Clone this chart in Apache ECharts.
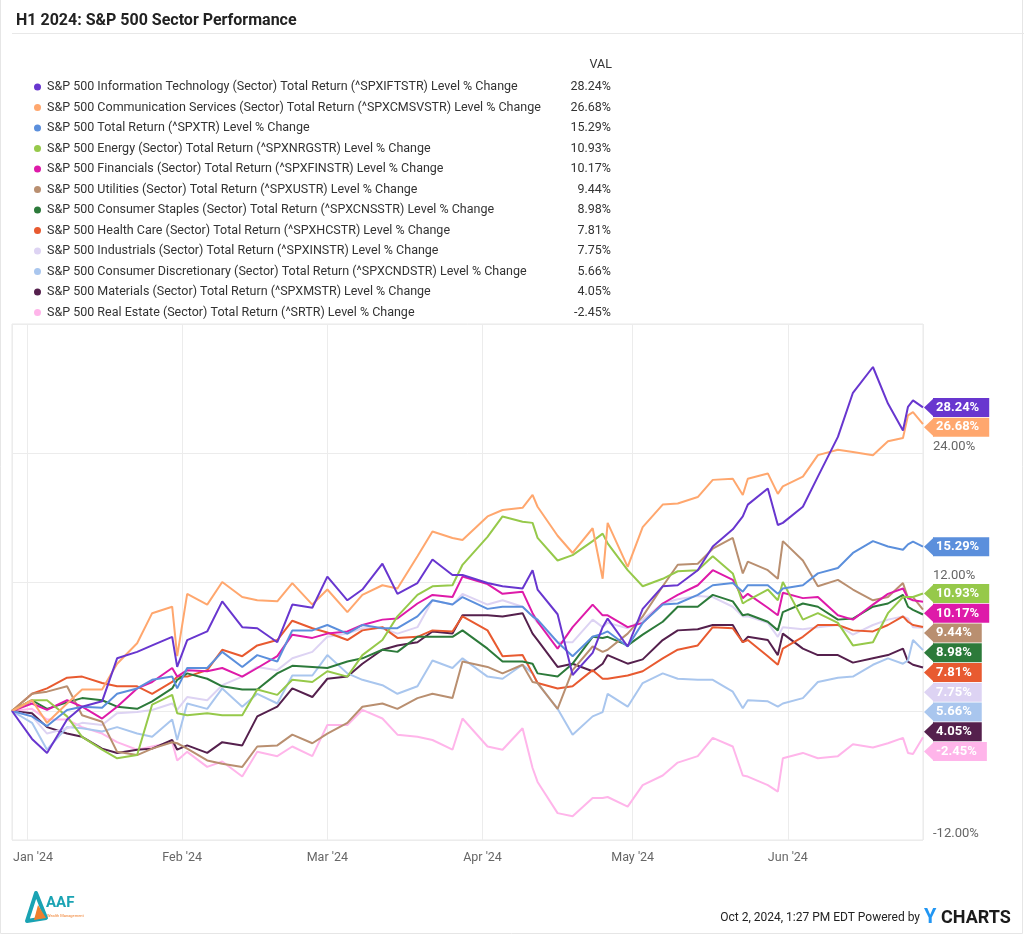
<!DOCTYPE html>
<html><head><meta charset="utf-8">
<script src="https://cdn.jsdelivr.net/npm/echarts@6/dist/echarts.min.js"></script>
<style>html,body{margin:0;padding:0;background:#fff}#c{width:1024px;height:935px}</style>
</head><body><div id="c"></div>
<script>
// ---- data ----
const dates = [
  '2023-12-29','2024-01-02','2024-01-05','2024-01-09','2024-01-12','2024-01-16','2024-01-19','2024-01-23','2024-01-26','2024-01-30','2024-01-31',
  '2024-02-02','2024-02-06','2024-02-09','2024-02-13','2024-02-16','2024-02-20','2024-02-23','2024-02-27','2024-03-01',
  '2024-03-05','2024-03-08','2024-03-12','2024-03-15','2024-03-19','2024-03-22','2024-03-26','2024-03-28','2024-04-02','2024-04-05','2024-04-09','2024-04-11','2024-04-12','2024-04-16','2024-04-19','2024-04-23','2024-04-25','2024-04-26','2024-04-30',
  '2024-05-03','2024-05-07','2024-05-10','2024-05-14','2024-05-17','2024-05-21','2024-05-23','2024-05-24','2024-05-28','2024-05-30','2024-05-31','2024-06-04','2024-06-07','2024-06-11','2024-06-14','2024-06-18','2024-06-21','2024-06-24','2024-06-25','2024-06-26','2024-06-28'];

const seriesNames = [
  'S&P 500 Information Technology (Sector) Total Return (^SPXIFTSTR) Level % Change',
  'S&P 500 Communication Services (Sector) Total Return (^SPXCMSVSTR) Level % Change',
  'S&P 500 Total Return (^SPXTR) Level % Change',
  'S&P 500 Energy (Sector) Total Return (^SPXNRGSTR) Level % Change',
  'S&P 500 Financials (Sector) Total Return (^SPXFINSTR) Level % Change',
  'S&P 500 Utilities (Sector) Total Return (^SPXUSTR) Level % Change',
  'S&P 500 Consumer Staples (Sector) Total Return (^SPXCNSSTR) Level % Change',
  'S&P 500 Health Care (Sector) Total Return (^SPXHCSTR) Level % Change',
  'S&P 500 Industrials (Sector) Total Return (^SPXINSTR) Level % Change',
  'S&P 500 Consumer Discretionary (Sector) Total Return (^SPXCNDSTR) Level % Change',
  'S&P 500 Materials (Sector) Total Return (^SPXMSTR) Level % Change',
  'S&P 500 Real Estate (Sector) Total Return (^SRTR) Level % Change'
];

const itValues = [0,-2.6,-3.9,-0.8,0.4,0.9,4.9,5.5,6.1,6.9,4.1,
  6.6,7.4,10.2,7.8,7.7,6.4,9.9,9.6,12.5,
  10.3,11.3,13.7,10.9,11.9,14.1,12.65,12.65,11.9,11.6,11.4,13.1,11.3,9.0,3.35,5.4,7.8,8.6,6.0,
  9.5,11.6,11.7,13.1,15.3,16.9,18.1,19.2,20.7,17.3,17.5,19.0,21.8,25.5,29.6,32.0,28.6,26.1,28.3,28.9,28.24];
const commValues = [0,1.0,-1.1,0.7,2.0,2.0,4.4,6.3,9.1,9.7,5.1,
  10.9,9.9,12.0,10.6,10.3,10.2,11.9,9.9,11.3,
  9.2,10.8,11.7,11.4,14.4,16.7,16.1,15.9,18.1,18.7,18.9,20.1,19.0,16.3,14.7,17.0,12.3,17.5,13.4,
  17.1,19.2,19.3,19.9,21.5,21.6,20.1,21.6,22.1,20.2,20.9,21.8,23.8,24.3,24.1,23.8,25.1,25.4,27.5,27.8,26.68];
const spxValues = [0,-0.5,-1.4,0.1,0.4,0.3,1.6,2.1,2.9,3.2,2.1,
  4.0,4.0,5.5,4.1,5.2,4.6,7.5,7.5,8.0,
  7.2,8.0,7.7,7.7,8.8,10.3,9.9,10.6,9.5,9.7,9.7,8.8,8.5,6.4,5.1,6.9,7.2,7.4,6.0,
  8.2,9.9,10.0,10.8,11.7,11.9,11.1,11.7,11.7,10.9,11.4,11.7,12.8,13.3,14.7,15.8,15.3,15.0,15.5,15.75,15.29];
const energyValues = [0,1.0,1.0,-0.5,-2.4,-3.6,-4.4,-4.1,0.6,1.5,-0.2,
  -0.4,-0.2,-0.4,-0.4,2.0,1.5,2.9,2.7,3.7,
  3.2,5.2,6.6,8.8,10.8,11.6,11.7,13.6,16.2,18.1,17.6,17.5,16.1,14.0,14.5,15.8,16.5,15.6,13.1,
  11.6,12.3,13.0,13.1,14.4,12.8,10.0,10.3,11.3,10.3,12.0,8.5,9.1,8.2,6.1,6.4,9.1,10.6,10.6,10.6,10.93];
const finValues = [0,0.7,0.1,1.0,0.4,-0.7,0.4,2.1,2.7,4.0,3.2,
  3.8,3.7,4.0,3.2,4.0,5.1,7.1,6.8,7.2,
  7.4,8.0,8.5,8.6,10.0,10.8,10.6,12.5,11.8,10.9,11.1,9.1,8.3,5.8,7.8,9.9,8.9,8.9,7.8,
  8.2,10.0,10.8,11.7,13.1,12.2,10.5,10.9,9.6,8.9,11.0,10.5,10.6,8.9,8.5,9.9,10.9,11.4,10.5,10.3,10.17];
const utilValues = [0,1.6,1.8,2.3,-0.4,-1.0,-3.8,-4.1,-3.5,-2.9,-3.0,
  -3.5,-4.6,-4.9,-5.2,-3.3,-3.2,-2.2,-3.0,-2.1,
  -1.1,0.4,0.7,0.2,1.2,1.6,1.2,4.6,4.1,3.5,4.3,2.7,2.6,0.2,3.8,6.0,5.5,5.7,7.2,
  8.8,11.6,13.6,13.7,15.1,16.1,12.8,13.9,13.1,12.3,15.8,14.0,11.6,12.2,11.3,10.3,10.6,11.9,10.5,10.6,9.44];
const staplesValues = [0,1.0,0.2,0.8,1.2,1.0,0.4,0.2,0.9,2.1,2.9,
  3.5,3.0,2.3,2.0,2.0,3.5,4.2,4.1,4.0,
  4.6,4.9,5.7,5.5,6.9,6.9,6.9,7.5,5.8,4.6,4.6,4.4,3.5,3.2,4.4,6.9,6.8,6.9,6.1,
  7.1,8.3,9.7,9.7,10.8,10.2,8.9,9.0,8.3,7.5,9.2,10.0,9.7,8.5,8.6,9.7,10.0,10.8,9.7,9.4,8.98];
const healthValues = [0,1.6,2.1,3.1,3.2,2.6,2.3,2.3,1.6,2.7,3.2,
  3.2,3.8,5.7,5.1,6.1,6.6,8.4,7.7,7.3,
  6.6,7.5,7.8,6.8,6.9,7.5,7.4,8.8,7.5,5.1,5.2,3.5,2.6,2.1,2.3,3.8,3.0,3.0,3.3,
  3.7,4.9,5.7,6.1,7.8,7.7,6.4,6.6,5.1,4.3,5.8,6.9,8.0,8.0,7.5,7.4,8.0,8.8,8.3,8.0,7.81];
const industrialsValues = [0,-0.5,-2.1,-1.6,-1.1,-1.3,-0.2,-0.1,0.1,0.7,0.1,
  1.3,1.0,2.4,3.2,4.1,3.8,4.9,5.5,6.9,
  7.2,7.7,7.7,7.2,7.8,10.3,9.9,10.9,9.9,10.3,9.7,8.8,8.2,6.4,6.4,8.5,7.8,8.2,7.7,
  8.5,10.0,10.4,10.7,10.6,9.7,8.8,8.8,8.2,6.9,7.8,7.6,7.8,8.0,7.1,8.0,8.5,8.8,8.6,7.8,7.75];
const discValues = [0,-1.1,-3.6,-1.5,-1.6,-1.9,-1.5,-2.1,-2.4,-0.8,-2.7,
  0.7,0.2,2.1,0.4,1.6,0.7,3.3,3.3,5.2,
  3.5,2.9,2.4,1.6,2.3,4.7,4.0,4.9,3.2,3.0,4.3,3.5,2.6,0.2,-2.2,-0.5,-0.1,1.6,0.4,
  2.6,3.5,3.0,2.9,2.9,1.8,0.25,1.0,0.9,0.4,0.7,1.2,2.7,3.1,3.2,4.3,4.9,4.4,4.7,6.6,5.66];
const materialsValues = [0,-0.2,-1.5,-2.1,-2.4,-3.5,-3.9,-3.6,-3.5,-2.7,-3.6,
  -3.2,-3.9,-2.9,-3.2,-0.5,0.4,2.1,1.3,3.0,
  3.2,4.4,5.7,6.1,6.4,7.4,7.2,8.9,8.9,8.8,9.1,7.2,6.6,4.1,4.4,3.7,4.4,5.2,4.4,
  4.8,6.6,7.5,7.6,8.0,8.0,6.4,6.9,6.6,5.2,7.2,5.8,5.2,5.2,4.5,4.9,5.2,5.8,4.6,4.3,4.05];
const realEstateValues = [0,0.2,-0.8,-0.8,-1.5,-2.1,-2.9,-3.6,-3.3,-2.9,-4.6,
  -3.8,-5.2,-4.7,-6.1,-3.8,-4.2,-3.3,-4.2,-1.3,
  -1.3,0.1,-0.7,-2.2,-2.4,-2.7,-3.6,-0.7,-3.3,-3.6,-1.6,-5.3,-6.6,-9.5,-9.8,-8.1,-8.1,-8.0,-8.9,
  -6.9,-6.0,-4.8,-4.2,-2.5,-3.3,-6.0,-6.1,-6.9,-7.5,-4.4,-3.9,-4.4,-4.2,-3.1,-3.4,-3.0,-2.5,-3.9,-4.0,-2.45];

const allValues = [itValues, commValues, spxValues, energyValues, finValues, utilValues,
  staplesValues, healthValues, industrialsValues, discValues, materialsValues, realEstateValues];

const colors = ['#6836cf','#ffa76e','#5b8fdc','#96c94a','#de1aa9','#b98f70',
  '#2c7a3a','#e85a30','#ddd3f3','#a9c6ee','#55204d','#ffb5ea'];

const yTicks = { min: -12, max: 36, interval: 12 };
const monthLabels = ['Jan','Feb','Mar','Apr','May','Jun','Jul','Aug','Sep','Oct','Nov','Dec'];

// ---- helpers ----
function parseLocal(s){ const p = s.split('-').map(Number); return new Date(p[0], p[1]-1, p[2]).getTime(); }
const times = dates.map(parseLocal);
const endTime = times[times.length-1];
const endValues = allValues.map(v => v[v.length-1]);
const fmtPct = v => v.toFixed(2) + '%';

const chart = echarts.init(document.getElementById('c'), null, {renderer:'canvas'});
const FONT = 'Roboto, "Noto Sans", sans-serif';

const lineSeries = [];
for (let i = allValues.length - 1; i >= 0; i--) {
  lineSeries.push({
    name: seriesNames[i], type: 'line', showSymbol: false, symbol: 'none',
    data: allValues[i].map((v, k) => [times[k], v]),
    lineStyle: { width: 2, color: colors[i] }, itemStyle: { color: colors[i] },
    emphasis: { disabled: true }, z: 2, animation: false
  });
}

const TAG_GAP = 19.75, TAG_H = 19;
const tagData = endValues.map((v, i) => [endTime, v, i]);
const tagSeries = {
  type: 'custom', coordinateSystem: 'cartesian2d', clip: false, z: 20, silent: true,
  encode: { x: 0, y: 1 }, data: tagData, animation: false,
  renderItem(params, api) {
    const ys = tagData.map(d => api.coord([d[0], d[1]])[1]);
    const order = ys.map((y, i) => i).sort((a, b) => ys[a] - ys[b]);
    const pos = []; let prev = -Infinity;
    order.forEach(i => { const y = Math.max(ys[i], prev + TAG_GAP); pos[i] = y; prev = y; });
    const i = params.dataIndex;
    const y = pos[i];
    const tipX = api.coord([endTime, 0])[0] + 1;
    const bodyX = tipX + 9;
    const col = colors[i];
    return {
      type: 'group',
      children: [
        { type: 'polygon', shape: { points: [[tipX, y], [bodyX + 1, y - TAG_H/2], [bodyX + 1, y + TAG_H/2]] }, style: { fill: col } },
        { type: 'text', x: bodyX, y: y, style: {
            text: fmtPct(endValues[i]), fill: '#fff', font: 'bold 13px ' + FONT,
            verticalAlign: 'middle', align: 'left', backgroundColor: col,
            padding: [3, 10, 3, 3], lineHeight: 13 } }
      ]
    };
  }
};

const legendVals = {};
seriesNames.forEach((n, i) => legendVals[n] = fmtPct(endValues[i]));

const option = {
  backgroundColor: '#fff',
  animation: false,
  textStyle: { fontFamily: FONT },
  title: { text: 'H1 2024: S&P 500 Sector Performance', left: 11, top: 8,
    textStyle: { fontFamily: FONT, fontWeight: 'bold', fontSize: 16, color: '#222' } },
  legend: {
    orient: 'vertical', left: 29, top: 74, icon: 'circle', itemWidth: 7, itemHeight: 7,
    itemGap: 4.5, selectedMode: false, data: seriesNames.map((n, i) => ({ name: n, itemStyle: { color: colors[i] } })),
    formatter: n => '{n|' + n + '}{v|' + legendVals[n] + '}',
    textStyle: { fontFamily: FONT, fontSize: 12.5, color: '#333', lineHeight: 16,
      rich: { n: { width: 498, fontSize: 12.5, color: '#333', padding: [0, 0, 0, 1], fontFamily: FONT },
              v: { width: 66, align: 'right', fontSize: 12.5, color: '#333', fontFamily: FONT } } }
  },
  grid: { left: 12, right: 101, top: 324, bottom: 95, show: true, borderColor: '#e8e8e8', borderWidth: 1, containLabel: false },
  xAxis: {
    type: 'time', min: times[0], max: endTime,
    minInterval: 28 * 86400000, maxInterval: 31 * 86400000,
    axisLine: { show: false }, axisTick: { show: false },
    splitLine: { show: true, lineStyle: { color: '#ececec', width: 1 } },
    axisLabel: { color: '#666', fontSize: 12.5, fontFamily: FONT, margin: 11, showMinLabel: false, showMaxLabel: false,
      formatter: v => { const d = new Date(v); const s = monthLabels[d.getMonth()] + " '" + String(d.getFullYear()).slice(2);
        return d.getMonth() === 0 ? '{f|' + s + '}' : s; },
      rich: { f: { padding: [0, 0, 0, 12], color: '#666', fontSize: 12.5, fontFamily: FONT } } }
  },
  yAxis: {
    type: 'value', position: 'right', min: yTicks.min, max: yTicks.max, interval: yTicks.interval,
    axisLine: { show: false }, axisTick: { show: false },
    splitLine: { lineStyle: { color: '#ececec' } },
    axisLabel: { formatter: v => v === 0 ? '' : fmtPct(v), color: '#666', fontSize: 13, fontFamily: FONT, margin: 10,
      verticalAlign: 'bottom', showMaxLabel: false, showMinLabel: true }
  },
  graphic: [
    { type: 'rect', shape: { x: 0.5, y: -5, width: 1022, height: 938.5 }, style: { fill: 'none', stroke: '#e6e6e6', lineWidth: 1 }, silent: true },
    { type: 'line', shape: { x1: 12, y1: 33.5, x2: 1024, y2: 33.5 }, style: { stroke: '#e8e8e8', lineWidth: 1 }, silent: true },
    { type: 'text', x: 612, y: 65, style: { text: 'VAL', font: '12.5px ' + FONT, fill: '#333', align: 'right', verticalAlign: 'middle' } },
    { type: 'text', x: 920, y: 918, style: { text: 'Oct 2, 2024, 1:27 PM EDT Powered by', font: '12px ' + FONT, fill: '#222', align: 'right', verticalAlign: 'middle' } },
    { type: 'text', x: 924, y: 918, style: { text: 'Y', font: 'bold 20px ' + FONT, fill: '#2196f3', align: 'left', verticalAlign: 'middle' } },
    { type: 'text', x: 941, y: 918, style: { text: 'CHARTS', font: 'bold 18px ' + FONT, fill: '#1b1b1b', align: 'left', verticalAlign: 'middle' } },
    // AAF logo
    { type: 'polygon', shape: { points: [[36,893],[46,918],[27,921]] }, style: { fill: 'none', stroke: '#1aa3b3', lineWidth: 4, lineJoin: 'round' } },
    { type: 'polygon', shape: { points: [[38,905],[46,918],[34,920]] }, style: { fill: '#f07f2d' } },
    { type: 'text', x: 46, y: 903, style: { text: 'AAF', font: 'bold 15px ' + FONT, fill: '#1aa3b3', verticalAlign: 'middle' } },
    { type: 'text', x: 47, y: 916, style: { text: 'Wealth Management', font: '4px ' + FONT, fill: '#f07f2d', verticalAlign: 'middle' } }
  ],
  series: lineSeries.concat([tagSeries])
};
chart.setOption(option);
</script></body></html>
